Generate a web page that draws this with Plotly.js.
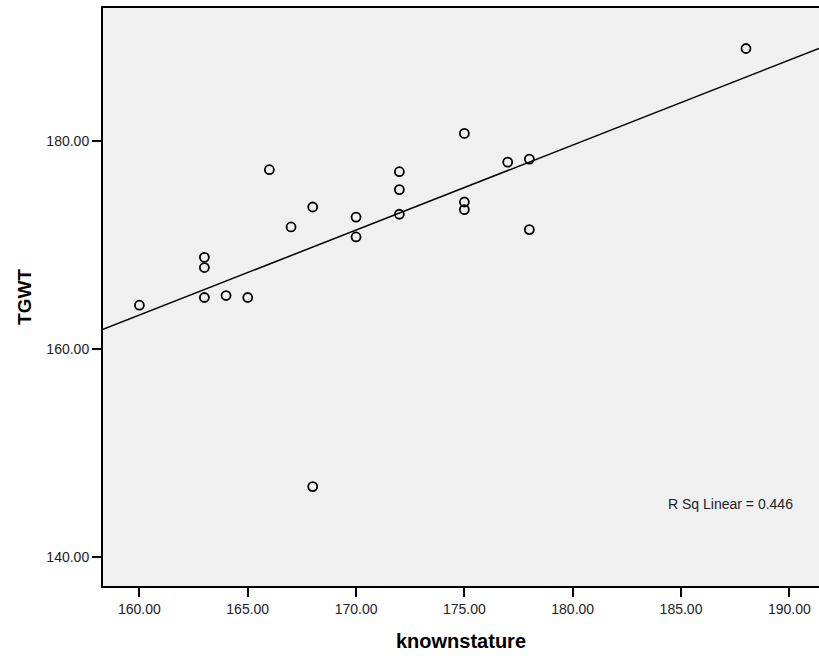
<!DOCTYPE html>
<html>
<head>
<meta charset="utf-8">
<script src="https://cdn.plot.ly/plotly-3.0.1.min.js"></script>
<style>html,body{margin:0;padding:0;background:#fff;}#chart{width:819px;height:656px;}</style>
</head>
<body>
<div id="chart"></div>
<script>
// Data
const knownstature = [160, 163, 163, 163, 164, 165, 166, 167, 168, 168, 170, 170, 172, 172, 172, 175, 175, 175, 177, 178, 178, 188];
const tgwt         = [164.23, 164.97, 167.85, 168.83, 165.16, 164.97, 177.25, 171.75, 173.67, 146.8, 172.7, 170.79, 177.06, 175.34, 172.97, 180.74, 174.15, 173.42, 177.98, 178.27, 171.5, 188.9];
const xTicks = [160, 165, 170, 175, 180, 185, 190];
const xTickLabels = ["160.00", "165.00", "170.00", "175.00", "180.00", "185.00", "190.00"];
const yTicks = [140, 160, 180];
const yTickLabels = ["140.00", "160.00", "180.00"];
const rSqLabel = "R Sq Linear = 0.446";

const xRange = [158.32, 191.37];
const yRange = [137.25, 192.79];

// least-squares fit line
const n = knownstature.length;
const mx = knownstature.reduce((a, b) => a + b, 0) / n;
const my = tgwt.reduce((a, b) => a + b, 0) / n;
let sxy = 0, sxx = 0;
for (let i = 0; i < n; i++) { sxy += (knownstature[i] - mx) * (tgwt[i] - my); sxx += (knownstature[i] - mx) ** 2; }
const slope = sxy / sxx;
const intercept = my - slope * mx;
const fitX = [xRange[0], xRange[1]];
const fitY = fitX.map(v => intercept + slope * v);

const font = "Liberation Sans, Arial, sans-serif";

const traces = [
  {
    x: fitX, y: fitY, mode: "lines", type: "scatter",
    line: {color: "#000", width: 1.5}, hoverinfo: "skip", showlegend: false
  },
  {
    x: knownstature, y: tgwt, mode: "markers", type: "scatter",
    marker: {symbol: "circle", size: 9, color: "rgba(0,0,0,0)", line: {color: "#000", width: 1.8}},
    showlegend: false
  }
];

const layout = {
  width: 819, height: 656,
  margin: {l: 103, r: 0, t: 8, b: 70},
  paper_bgcolor: "#ffffff",
  plot_bgcolor: "#f0f0f0",
  font: {family: font, size: 14, color: "#222"},
  xaxis: {
    range: xRange, tickvals: xTicks, ticktext: xTickLabels,
    showgrid: false, zeroline: false,
    showline: true, linecolor: "#000", linewidth: 2, mirror: true,
    ticks: "outside", ticklen: 9, tickwidth: 2, tickcolor: "#000",
    tickfont: {family: font, size: 14, color: "#222"},
    title: {text: "<b>knownstature</b>", font: {family: font, size: 20, color: "#000"}, standoff: 18}
  },
  yaxis: {
    range: yRange, tickvals: yTicks, ticktext: yTickLabels,
    showgrid: false, zeroline: false,
    showline: true, linecolor: "#000", linewidth: 2, mirror: false,
    ticks: "outside", ticklen: 9, tickwidth: 2, tickcolor: "#000",
    tickfont: {family: font, size: 14, color: "#222"},
    title: {text: "<b>TGWT</b>", font: {family: font, size: 19, color: "#000"}, standoff: 10}
  },
  annotations: [{
    x: 187.3, y: 145.13, xref: "x", yref: "y", text: rSqLabel, showarrow: false,
    font: {family: font, size: 14, color: "#222"}, xanchor: "center", yanchor: "middle"
  }]
};

Plotly.newPlot("chart", traces, layout, {displayModeBar: false, staticPlot: true});
</script>
</body>
</html>
